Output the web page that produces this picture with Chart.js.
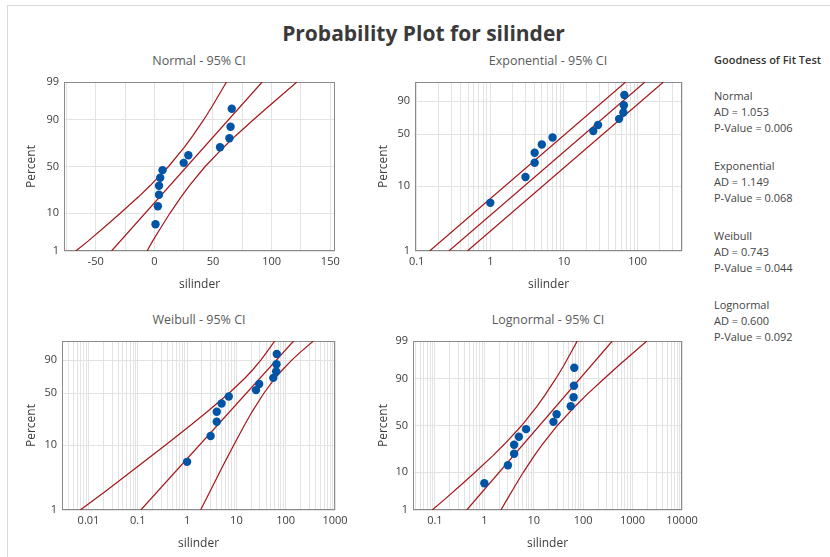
<!DOCTYPE html>
<html>
<head>
<meta charset="utf-8">
<title>Probability Plot for silinder</title>
<script src="https://cdn.jsdelivr.net/npm/chart.js@4.4.1/dist/chart.umd.min.js"></script>
<style>
  body { margin: 0; background: #fff; font-family: 'Open Sans', sans-serif; }
  #wrap { position: relative; width: 830px; height: 557px; overflow: hidden; background: #fff; }
  #wrap canvas { position: absolute; left: 0; top: 0; }
  .frame { position: absolute; left: 7px; top: 5px; width: 900px; height: 600px;
           border-left: 1px solid #dadada; border-top: 1px solid #dadada; }
  .title { position: absolute; left: 0; width: 847px; top: 19px; line-height: 28px; text-align: center;
           font-size: 21px; font-weight: bold; color: #3a3a3a; }
  .sub { position: absolute; width: 240px; line-height: 16px; text-align: center; font-size: 12.5px; color: #5a5a5a; }
  .gof { position: absolute; left: 714px; line-height: 16px; font-size: 11px; color: #444; white-space: nowrap; }
  .gof.head { font-weight: 600; color: #333; }
</style>
</head>
<body>
<div id="wrap">
  <div class="frame"></div>
  <div class="title">Probability Plot for silinder</div>
  <div class="sub" style="left:79px;top:53px">Normal - 95% CI</div>
  <div class="sub" style="left:428px;top:53px">Exponential - 95% CI</div>
  <div class="sub" style="left:79px;top:312px">Weibull - 95% CI</div>
  <div class="sub" style="left:428px;top:312px">Lognormal - 95% CI</div>
  <div class="gof head" style="top:52px">Goodness of Fit Test</div>
  <div id="gof"></div>
  <canvas id="cNormal" width="830" height="557"></canvas>
  <canvas id="cExpo" width="830" height="557"></canvas>
  <canvas id="cWeibull" width="830" height="557"></canvas>
  <canvas id="cLognormal" width="830" height="557"></canvas>
</div>
<script>
// ---- data ----
const silinder = [1, 3, 4, 4, 5, 7, 25, 29, 56, 64, 65, 66];
const percentRank = [5.6, 13.7, 21.8, 29.8, 37.9, 46.0, 54.0, 62.1, 70.2, 78.2, 86.3, 94.4];

const fitPercent = [1, 99];
const ciPercent = [1, 2, 5, 10, 20, 30, 50, 70, 80, 90, 95, 99];

const normalFit = [-36.5, 91.9];
const normalLower = [-67, -56.5, -41.7, -28.8, -13.7, -3.5, 12.1, 25.5, 32.7, 42.0, 49.1, 61.5];
const normalUpper = [-6.2, -1.5, 6.3, 13.4, 22.7, 29.9, 43.3, 58.9, 69.1, 84.2, 97.1, 121.5];

const expoFit = [0.274, 125.7];
const expoLower = [0.150, 68.8];
const expoUpper = [0.488, 224];

const weibullFit = [0.115, 144.5];
const weibullLower = [0.0068, 0.0229, 0.109, 0.361, 1.23, 2.59, 7.08, 15.0, 21.3, 31.3, 40.2, 60];
const weibullUpper = [1.88, 2.96, 5.43, 8.81, 14.8, 20.9, 36.0, 61.2, 85.1, 133, 191, 364];

const lognormalFit = [0.44, 389];
const lognormalLower = [0.088, 0.151, 0.332, 0.658, 1.46, 2.51, 5.70, 11.6, 17.0, 27.7, 40.3, 76];
const lognormalUpper = [2.16, 2.83, 4.26, 6.19, 10.1, 14.8, 30.1, 68.2, 117, 261, 516, 1940];

// tick labels
const normalXTicks = [-50, 0, 50, 100, 150];
const normalXGrid = [-75, -50, -25, 0, 25, 50, 75, 100, 125, 150];
const expoXTicks = [0.1, 1, 10, 100];
const weibullXTicks = [0.01, 0.1, 1, 10, 100, 1000];
const lognormalXTicks = [0.1, 1, 10, 100, 1000, 10000];
const percentTicks = [1, 10, 50, 90, 99];
const percentTicksShort = [1, 10, 50, 90];

// goodness of fit
const gofNames = ['Normal', 'Exponential', 'Weibull', 'Lognormal'];
const gofAD = [1.053, 1.149, 0.743, 0.600];
const gofP = [0.006, 0.068, 0.044, 0.092];

// ---- styling ----
const FONT = "'Open Sans', sans-serif";
const TEXT = '#3c3c3c';
const GRID = '#e3e3e3';
const LINE_RED = '#a3161b';
const DOT_BLUE = '#0054a6';
const X_AXIS_H = 48;

Chart.defaults.font.family = FONT;
Chart.defaults.color = TEXT;

// goodness of fit text block
const gofBox = document.getElementById('gof');
gofNames.forEach((name, i) => {
  const top = 88 + i * 69.8;
  [name, 'AD = ' + gofAD[i].toFixed(3), 'P-Value = ' + gofP[i].toFixed(3)].forEach((t, j) => {
    const d = document.createElement('div');
    d.className = 'gof';
    d.style.top = (top + j * 16) + 'px';
    d.textContent = t;
    gofBox.appendChild(d);
  });
});

// inverse standard normal CDF (Acklam)
function probit(p) {
  const a = [-3.969683028665376e+01, 2.209460984245205e+02, -2.759285104469687e+02, 1.383577518672690e+02, -3.066479806614716e+01, 2.506628277459239e+00];
  const b = [-5.447609879822406e+01, 1.615858368580409e+02, -1.556989798598866e+02, 6.680131188771972e+01, -1.328068155288572e+01];
  const c = [-7.784894002430293e-03, -3.223964580411365e-01, -2.400758277161838e+00, -2.549732539343734e+00, 4.374664141464968e+00, 2.938163982698783e+00];
  const d = [7.784695709041462e-03, 3.224671290700398e-01, 2.445134137142996e+00, 3.754408661907416e+00];
  const lo = 0.02425;
  let q, r;
  if (p < lo || p > 1 - lo) {
    q = Math.sqrt(-2 * Math.log(p < lo ? p : 1 - p));
    const v = (((((c[0] * q + c[1]) * q + c[2]) * q + c[3]) * q + c[4]) * q + c[5]) /
              ((((d[0] * q + d[1]) * q + d[2]) * q + d[3]) * q + 1);
    return p < lo ? v : -v;
  }
  q = p - 0.5; r = q * q;
  return (((((a[0] * r + a[1]) * r + a[2]) * r + a[3]) * r + a[4]) * r + a[5]) * q /
         (((((b[0] * r + b[1]) * r + b[2]) * r + b[3]) * r + b[4]) * r + 1);
}

// percent -> axis position for each probability paper
const probTransform = {
  normal: v => probit(v / 100),
  weibull: v => Math.log10(-Math.log(1 - v / 100))
};

// probability-paper scale: value is a percent
class ProbScale extends Chart.Scale {
  determineDataLimits() {
    this.min = this.options.min;
    this.max = this.options.max;
  }
  buildTicks() {
    return this.options.tickValues.map(v => ({ value: v }));
  }
  configure() {
    super.configure();
    this._f = probTransform[this.options.dist];
    this._lo = this._f(this.min);
    this._hi = this._f(this.max);
  }
  getLabelForValue(v) { return String(v); }
  getPixelForValue(v) {
    return this.getPixelForDecimal((this._f(v) - this._lo) / (this._hi - this._lo));
  }
  getValueForPixel(px) {
    const t = this._lo + this.getDecimalForPixel(px) * (this._hi - this._lo);
    let a = this.min, b = this.max;
    for (let k = 0; k < 40; k++) {
      const m = (a + b) / 2;
      if (this._f(m) < t) a = m; else b = m;
    }
    return (a + b) / 2;
  }
}
ProbScale.id = 'prob';
ProbScale.defaults = {};
Chart.register(ProbScale);

// box around plot area
const framePlugin = {
  id: 'frame',
  beforeDatasetsDraw(chart) {
    const { ctx, chartArea: a } = chart;
    ctx.save();
    ctx.strokeStyle = '#8a8a8a';
    ctx.lineWidth = 1;
    ctx.strokeRect(Math.round(a.left) + 0.5, Math.round(a.top) + 0.5,
                   Math.round(a.width) - 1, Math.round(a.height) - 1);
    ctx.restore();
  }
};

function logGrid(majors, lo, hi) {
  const out = majors.slice();
  for (let e = lo; e <= hi; e++) {
    for (let m = 2; m <= 9; m++) out.push(m * Math.pow(10, e));
  }
  return out;
}

const line = (xs, ps) => ({
  data: xs.map((x, i) => ({ x: x, y: ps[i] })),
  showLine: true, borderColor: LINE_RED, borderWidth: 1.2, pointRadius: 0, order: 2
});
const dots = (xs, ps) => ({
  data: xs.map((x, i) => ({ x: x, y: ps[i] })),
  showLine: false, pointRadius: 4.2, pointBackgroundColor: DOT_BLUE,
  pointBorderWidth: 0, pointBorderColor: DOT_BLUE, order: 1
});

function makePlot(id, p) {
  const [L, T, R, B] = p.box;
  const padLeft = p.yTitleX - 7.2 - 4;
  new Chart(document.getElementById(id), {
    type: 'scatter',
    data: { datasets: p.datasets },
    options: {
      responsive: false,
      animation: false,
      events: [],
      layout: { padding: { left: padLeft, top: T, right: 830 - R, bottom: 557 - B - X_AXIS_H } },
      plugins: { legend: { display: false }, tooltip: { enabled: false } },
      scales: {
        x: {
          type: p.xType, min: p.xMin, max: p.xMax,
          afterBuildTicks: s => {
            s.ticks = p.xGrid.filter(v => v >= s.min && v <= s.max)
              .sort((u, w) => u - w).map(v => ({ value: v }));
          },
          afterFit: s => { s.height = X_AXIS_H; },
          grid: { color: GRID, lineWidth: 1, drawTicks: false },
          border: { display: false },
          ticks: {
            autoSkip: false, maxRotation: 0, padding: 4, color: TEXT, font: { size: 11 },
            callback: v => (p.xTicks.includes(v) ? String(v) : '')
          },
          title: { display: true, text: 'silinder', color: TEXT, font: { size: 12 }, padding: { top: 0, bottom: 7 } }
        },
        y: {
          type: 'prob', dist: p.dist, min: 1, max: 99, tickValues: p.yTicks,
          afterFit: s => { s.width = L - padLeft; },
          grid: { color: GRID, lineWidth: 1, drawTicks: false },
          border: { display: false },
          ticks: { autoSkip: false, padding: 5, color: TEXT, font: { size: 11 } },
          title: { display: true, text: 'Percent', color: TEXT, font: { size: 12 }, padding: { top: 4, bottom: 0 } }
        }
      }
    },
    plugins: [framePlugin]
  });
}

makePlot('cNormal', {
  box: [64, 82, 335, 251], yTitleX: 31.7,
  xType: 'linear', xMin: -77, xMax: 154, xTicks: normalXTicks, xGrid: normalXGrid,
  dist: 'normal', yTicks: percentTicks,
  datasets: [
    dots(silinder, percentRank),
    line(normalFit, fitPercent),
    line(normalLower, ciPercent),
    line(normalUpper, ciPercent)
  ]
});

makePlot('cExpo', {
  box: [415, 82, 682, 251], yTitleX: 383.3,
  xType: 'logarithmic', xMin: 0.095, xMax: 400, xTicks: expoXTicks, xGrid: logGrid(expoXTicks, -1, 2),
  dist: 'weibull', yTicks: percentTicksShort,
  datasets: [
    dots(silinder, percentRank),
    line(expoFit, fitPercent),
    line(expoLower, fitPercent),
    line(expoUpper, fitPercent)
  ]
});

makePlot('cWeibull', {
  box: [62, 341, 335, 510], yTitleX: 31.7,
  xType: 'logarithmic', xMin: 0.0029, xMax: 1000, xTicks: weibullXTicks, xGrid: logGrid(weibullXTicks, -3, 2),
  dist: 'weibull', yTicks: percentTicksShort,
  datasets: [
    dots(silinder, percentRank),
    line(weibullFit, fitPercent),
    line(weibullLower, ciPercent),
    line(weibullUpper, ciPercent)
  ]
});

makePlot('cLognormal', {
  box: [413, 341, 682, 510], yTitleX: 383.3,
  xType: 'logarithmic', xMin: 0.036, xMax: 10000, xTicks: lognormalXTicks, xGrid: logGrid(lognormalXTicks, -2, 3),
  dist: 'normal', yTicks: percentTicks,
  datasets: [
    dots(silinder, percentRank),
    line(lognormalFit, fitPercent),
    line(lognormalLower, ciPercent),
    line(lognormalUpper, ciPercent)
  ]
});
</script>
</body>
</html>
